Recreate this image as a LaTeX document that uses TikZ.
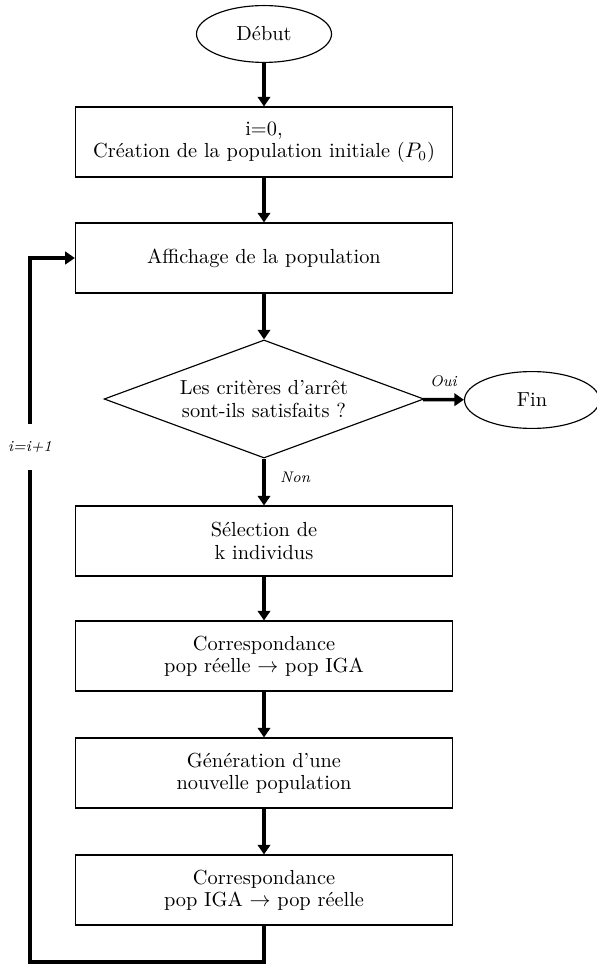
\documentclass[tikz,border=0pt]{standalone}
\usetikzlibrary{shapes.geometric,arrows.meta}
\tikzstyle{startstop}=[ellipse, draw, semithick, minimum width=2.47cm, minimum height=1.04cm]
\tikzstyle{process}=[rectangle, draw, semithick, align=center, minimum width=6.9cm, minimum height=1.28cm]
\tikzstyle{decision}=[diamond, draw, semithick, align=center, aspect=2.71, minimum width=5.85cm, minimum height=2.16cm, inner sep=0pt]
\tikzstyle{flow}=[line width=1.8pt, -{Triangle[width=6.5pt,length=5pt]}]
\tikzstyle{loopline}=[line width=1.8pt]
\tikzstyle{lbl}=[font=\footnotesize\itshape]

\begin{document}
\fontsize{10.6pt}{11.6pt}\selectfont
\begin{tikzpicture}[x=0.018289cm, y=-0.018289cm]
	\useasboundingbox (0,0) rectangle (596,964);
	% main column
	\node[startstop] (debut) at (264,34) {Début};
	\node[process] (init) at (264,142) {i=0,\\ Création de la population initiale ($P_0$)};
	\node[process] (affich) at (264,258) {Affichage de la population};
	\node[decision] (test) at (264,399) {Les critères d'arrêt\\ sont-ils satisfaits ?};
	\node[startstop] (fin) at (532,400) {Fin};
	\node[process] (selec) at (264,541) {Sélection de\\ k individus};
	\node[process] (corrA) at (264,656) {Correspondance\\ pop réelle $\rightarrow$ pop IGA};
	\node[process] (gen) at (264,773) {Génération d'une\\ nouvelle population};
	\node[process] (corrB) at (264,890) {Correspondance\\ pop IGA $\rightarrow$ pop réelle};
	% back loop
	\coordinate (coin) at (30,962);
	\node[lbl, inner ysep=9pt] (incr) at (30,447) {i=i+1};

	\draw[flow] (debut) -- (init);
	\draw[flow] (init) -- (affich);
	\draw[flow] (affich) -- (test);
	\draw[flow] (test) -- node[lbl, above=2pt] {Oui} (fin);
	\draw[flow] (test) -- node[lbl, right=4pt, pos=0.4] {Non} (selec);
	\draw[flow] (selec) -- (corrA);
	\draw[flow] (corrA) -- (gen);
	\draw[flow] (gen) -- (corrB);
	\draw[loopline] (corrB) |- (coin) -- (incr);
	\draw[flow] (incr) |- (affich);
\end{tikzpicture}
\end{document}
